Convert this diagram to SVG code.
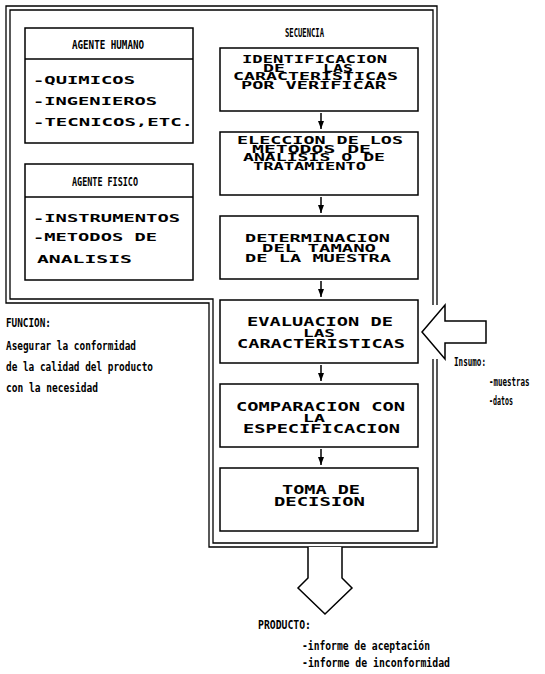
<svg xmlns="http://www.w3.org/2000/svg" width="545" height="674" viewBox="0 0 545 674">
  <style>
    .box { fill: #fff; stroke: #000; stroke-width: 1.5; }
    .frame { fill: none; stroke: #000; stroke-width: 1.3; }
    .big { fill: #fff; stroke: #000; stroke-width: 1.5; stroke-linejoin: miter; }
    .wire { fill: none; stroke: #000; stroke-width: 1.5; }
    .t { font-family: "DejaVu Sans Mono", "Liberation Mono", monospace; font-weight: bold; font-size: 11px; fill: #000; }
    .s { font-size: 10px; }
    .m { font-size: 11.5px; }
    .c { font-family: "DejaVu Sans Mono", "Liberation Mono", monospace; font-weight: bold; font-size: 12.5px; fill: #000; }
    .h { font-size: 13px; }
  </style>
  <defs>
    <marker id="head" viewBox="0 0 8 6" refX="8" refY="3" markerWidth="8" markerHeight="6" markerUnits="userSpaceOnUse" orient="auto">
      <path d="M0,0 L8,3 L0,6 Z" fill="#000"/>
    </marker>
  </defs>
  <rect width="545" height="674" fill="#fff"/>

  <!-- double L-shaped frame around agents and sequence -->
  <g id="frame">
    <path class="frame" d="M437 305 V6 H6 V303 H209 V547 H437 V359"/>
    <path class="frame" d="M433 305 V10 H10 V299 H213 V543 H433 V359"/>
  </g>

  <!-- agents -->
  <g id="agente-humano">
    <rect class="box" x="25" y="28" width="168" height="115"/>
    <line class="box" x1="25" y1="59" x2="193" y2="59"/>
    <text class="c h" x="72" y="49" textLength="72" lengthAdjust="spacingAndGlyphs">AGENTE HUMANO</text>
    <text class="t" x="33" y="84" textLength="102" lengthAdjust="spacingAndGlyphs">-QUIMICOS</text>
    <text class="t" x="33" y="105" textLength="124" lengthAdjust="spacingAndGlyphs">-INGENIEROS</text>
    <text class="t" x="33" y="126" textLength="160" lengthAdjust="spacingAndGlyphs">-TECNICOS,ETC.</text>
  </g>
  <g id="agente-fisico">
    <rect class="box" x="25" y="164" width="168" height="116"/>
    <line class="box" x1="25" y1="197" x2="193" y2="197"/>
    <text class="c h" x="72" y="186" textLength="66" lengthAdjust="spacingAndGlyphs">AGENTE FISICO</text>
    <text class="t" x="33" y="222" textLength="147" lengthAdjust="spacingAndGlyphs">-INSTRUMENTOS</text>
    <text class="t" x="33" y="241" textLength="124" lengthAdjust="spacingAndGlyphs">-METODOS DE</text>
    <text class="t" x="37" y="263" textLength="95" lengthAdjust="spacingAndGlyphs">ANALISIS</text>
  </g>

  <!-- sequence -->
  <g id="secuencia-titulo">
    <text class="c h" x="285" y="37" textLength="39" lengthAdjust="spacingAndGlyphs">SECUENCIA</text>
  </g>
  <g id="paso-1">
    <rect class="box" x="220" y="48" width="198" height="63"/>
    <text class="t s" x="242" y="63" textLength="145" lengthAdjust="spacingAndGlyphs">IDENTIFICACION</text>
    <text class="t s" x="263" y="71.5" textLength="22" lengthAdjust="spacingAndGlyphs">DE</text>
    <text class="t s" x="323" y="71.5" textLength="30" lengthAdjust="spacingAndGlyphs">LAS</text>
    <text class="t s" x="233" y="80" textLength="165" lengthAdjust="spacingAndGlyphs">CARACTERISTICAS</text>
    <text class="t s" x="241" y="88.5" textLength="145" lengthAdjust="spacingAndGlyphs">POR VERIFICAR</text>
  </g>
  <g id="paso-2">
    <rect class="box" x="220" y="132" width="198" height="63"/>
    <text class="t s" x="237" y="144" textLength="166" lengthAdjust="spacingAndGlyphs">ELECCION DE LOS</text>
    <text class="t s" x="252" y="152.5" textLength="119" lengthAdjust="spacingAndGlyphs">METODOS DE</text>
    <text class="t s" x="243" y="161" textLength="142" lengthAdjust="spacingAndGlyphs">ANALISIS O DE</text>
    <text class="t s" x="253" y="169.5" textLength="113" lengthAdjust="spacingAndGlyphs">TRATAMIENTO</text>
  </g>
  <g id="paso-3">
    <rect class="box" x="220" y="216" width="198" height="63"/>
    <text class="t" x="245" y="242" textLength="145" lengthAdjust="spacingAndGlyphs">DETERMINACION</text>
    <text class="t" x="262" y="252" textLength="114" lengthAdjust="spacingAndGlyphs">DEL TAMANO</text>
    <text class="t" x="245" y="262" textLength="146" lengthAdjust="spacingAndGlyphs">DE LA MUESTRA</text>
  </g>
  <g id="paso-4">
    <rect class="box" x="220" y="300" width="198" height="63"/>
    <text class="t m" x="247" y="326" textLength="146" lengthAdjust="spacingAndGlyphs">EVALUACION DE</text>
    <text class="t" x="303" y="336.5" textLength="32" lengthAdjust="spacingAndGlyphs">LAS</text>
    <text class="t m" x="237" y="347.5" textLength="168" lengthAdjust="spacingAndGlyphs">CARACTERISTICAS</text>
  </g>
  <g id="paso-5">
    <rect class="box" x="220" y="384" width="198" height="63"/>
    <text class="t m" x="236" y="411" textLength="169" lengthAdjust="spacingAndGlyphs">COMPARACION CON</text>
    <text class="t" x="303" y="421.5" textLength="22" lengthAdjust="spacingAndGlyphs">LA</text>
    <text class="t m" x="243" y="432.5" textLength="157" lengthAdjust="spacingAndGlyphs">ESPECIFICACION</text>
  </g>
  <g id="paso-6">
    <rect class="box" x="220" y="468" width="198" height="63"/>
    <text class="t m" x="282" y="494" textLength="78" lengthAdjust="spacingAndGlyphs">TOMA DE</text>
    <text class="t m" x="274" y="505.5" textLength="91" lengthAdjust="spacingAndGlyphs">DECISION</text>
  </g>

  <!-- function statement -->
  <g id="funcion">
    <text class="c h" x="6" y="327" textLength="45" lengthAdjust="spacingAndGlyphs">FUNCION:</text>
    <text class="c" x="6" y="350" textLength="130" lengthAdjust="spacingAndGlyphs">Asegurar la conformidad</text>
    <text class="c" x="6" y="371" textLength="147" lengthAdjust="spacingAndGlyphs">de la calidad del producto</text>
    <text class="c" x="6" y="392" textLength="92" lengthAdjust="spacingAndGlyphs">con la necesidad</text>
  </g>

  <!-- input -->
  <g id="insumo">
    <path class="big" d="M486 321 H445 V305 L422 332 L445 359 V343 H486 Z"/>
    <text class="c h" x="454" y="366" textLength="32" lengthAdjust="spacingAndGlyphs">Insumo:</text>
    <text class="c" transform="translate(489 386) scale(0.6 1)" x="0" y="0">-muestras</text>
    <text class="c" transform="translate(489 405) scale(0.53 1)" x="0" y="0">-datos</text>
  </g>

  <!-- output -->
  <g id="producto">
    <path class="big" d="M308 547 V578 L298 588 L325 614 L352 588 L342 578 V547"/>
    <text class="c h" x="258" y="629" textLength="53" lengthAdjust="spacingAndGlyphs">PRODUCTO:</text>
    <text class="c" x="302" y="650" textLength="128" lengthAdjust="spacingAndGlyphs">-informe de aceptación</text>
    <text class="c" x="302" y="667" textLength="148" lengthAdjust="spacingAndGlyphs">-informe de inconformidad</text>
  </g>

  <!-- connectors between steps -->
  <g id="connectors">
    <line class="wire" x1="321" y1="113" x2="321" y2="129" marker-end="url(#head)"/>
    <line class="wire" x1="321" y1="197" x2="321" y2="213" marker-end="url(#head)"/>
    <line class="wire" x1="321" y1="281" x2="321" y2="297" marker-end="url(#head)"/>
    <line class="wire" x1="321" y1="365" x2="321" y2="381" marker-end="url(#head)"/>
    <line class="wire" x1="321" y1="449" x2="321" y2="465" marker-end="url(#head)"/>
  </g>
</svg>
